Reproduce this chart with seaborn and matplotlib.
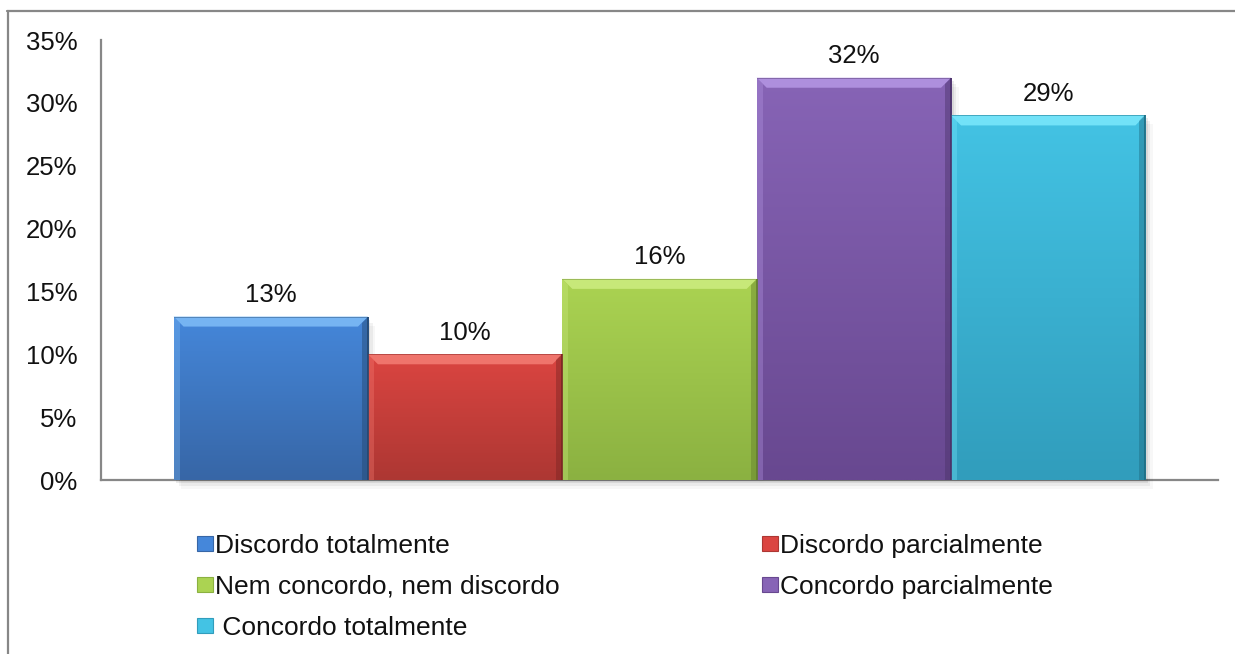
import numpy as np
import pandas as pd
import matplotlib
matplotlib.use("Agg")
import matplotlib.pyplot as plt
from matplotlib.patches import Polygon, Patch, Rectangle
from matplotlib.lines import Line2D
import seaborn as sns

# Survey answers and their share of respondents (%)
answers = ["Discordo totalmente", "Discordo parcialmente", "Nem concordo, nem discordo",
           "Concordo parcialmente", " Concordo totalmente"]
shares = [13, 10, 16, 32, 29]
y_ticks = [0, 5, 10, 15, 20, 25, 30, 35]

# (top, bottom, bevel highlight, bevel shade) per answer
palette_top = ["#4587da", "#db4541", "#abd352", "#8764b6", "#43c3e4"]
palette_bottom = ["#3766a6", "#ad3733", "#8bb141", "#684890", "#319dbc"]
palette_light = ["#7cbaf6", "#f27a72", "#cbeb7e", "#b395e2", "#78e6fb"]
palette_dark = ["#24476f", "#7a2523", "#627e2c", "#4a3268", "#1f6c82"]

df = pd.DataFrame({"grupo": [""] * len(answers), "resposta": answers, "valor": shares})

sns.set_theme(style="white")
plt.rcParams["font.family"] = ["Liberation Sans", "DejaVu Sans"]

fig = plt.figure(figsize=(12.35, 6.54), dpi=100)
ax = fig.add_axes([101 / 1235, 1 - 480 / 654, (1218 - 101) / 1235, (480 - 40) / 654])

sns.barplot(data=df, x="grupo", y="valor", hue="resposta", hue_order=answers,
            palette=palette_top, width=0.87, dodge=True, legend=False,
            saturation=1, ax=ax, linewidth=0, errorbar=None)

ax.set_xlim(-0.5, 0.5)
ax.set_ylim(0, 35)
ax.set_yticks(y_ticks)
ax.set_yticklabels([f"{t}%" for t in y_ticks], fontsize=18.5, color="#111111")
ax.set_xticks([])
ax.set_xlabel("")
ax.set_ylabel("")
ax.tick_params(axis="y", length=0, pad=17)
for side in ["top", "right"]:
    ax.spines[side].set_visible(False)
for side in ["left", "bottom"]:
    ax.spines[side].set_color("#878787")
    ax.spines[side].set_linewidth(1.6)
    ax.spines[side].set_zorder(0.5)

# pixel -> data scale for bevel geometry
fig.canvas.draw()
p0 = ax.transData.inverted().transform((0, 0))
p1 = ax.transData.inverted().transform((10, 10))
bx, by = abs(p1[0] - p0[0]), abs(p1[1] - p0[1])
sx, sy = abs(ax.transData.inverted().transform((5, 0))[0] - p0[0]), by * 0.3

bars = [p for p in ax.patches if isinstance(p, Rectangle) and p.get_height() > 0]
bars.sort(key=lambda p: p.get_x())
for i, bar in enumerate(bars):
    x, w, h = bar.get_x(), bar.get_width(), bar.get_height()
    bar.set_zorder(2)
    # soft drop shadow
    for k, a in enumerate([0.08, 0.05, 0.03]):
        ax.add_patch(Rectangle((x + sx * (k + 1) * 0.5, -sy * (k + 1)), w, h,
                               facecolor="#000000", alpha=a, lw=0, zorder=1,
                               clip_on=False))
    # vertical colour gradient
    top = np.array(matplotlib.colors.to_rgb(palette_top[i]))
    bot = np.array(matplotlib.colors.to_rgb(palette_bottom[i]))
    t = np.linspace(0, 1, 256)[:, None]
    grad = (bot * (1 - t) + top * t)[:, None, :]
    im = ax.imshow(grad, extent=[x, x + w, 0, h], origin="lower", aspect="auto",
                   zorder=3, interpolation="bilinear")
    im.set_clip_path(bar)
    # bevelled edges
    light, dark = palette_light[i], palette_dark[i]
    ax.add_patch(Polygon([(x, h), (x + w, h), (x + w - bx, h - by), (x + bx, h - by)],
                         closed=True, facecolor=light, lw=0, zorder=4, alpha=0.9))
    ax.add_patch(Polygon([(x + w, h), (x + w, 0), (x + w - bx * 0.6, 0), (x + w - bx * 0.6, h - by * 0.6)],
                         closed=True, facecolor=dark, lw=0, zorder=4, alpha=0.45))
    ax.add_patch(Polygon([(x, h), (x, 0), (x + bx * 0.6, 0), (x + bx * 0.6, h - by * 0.6)],
                         closed=True, facecolor=light, lw=0, zorder=4, alpha=0.35))
    ax.plot([x + w, x + w], [0, h], color=dark, lw=1.2, zorder=5, solid_capstyle="butt")
    ax.plot([x, x + w], [h, h], color=dark, lw=0.6, alpha=0.5, zorder=5)
    ax.annotate(f"{shares[i]}%", (x + w / 2, h), xytext=(0, 7), textcoords="offset points",
                ha="center", va="bottom", fontsize=18.5, color="#111111", zorder=6)

ax.set_xlim(-0.5, 0.5)
ax.set_ylim(0, 35)

# legend: two columns, row-major order
order = [0, 2, 4, 1, 3]
handles = [Patch(facecolor=palette_top[j], edgecolor=palette_bottom[j], linewidth=0.8) for j in order]
labels = [answers[j] for j in order]
fig.legend(handles, labels, ncol=2, loc="upper left",
           bbox_to_anchor=(197 / 1235, 1 - 534 / 654), frameon=False,
           fontsize=19, handlelength=0.6, handleheight=0.53, handletextpad=0.1,
           columnspacing=7.65, labelspacing=0.64, borderpad=0, borderaxespad=0,
           labelcolor="#111111")

# outer chart-area frame
fig.add_artist(Line2D([7 / 1235, 1], [1 - 11 / 654, 1 - 11 / 654], color="#878787", lw=1.6,
                      transform=fig.transFigure))
fig.add_artist(Line2D([7.5 / 1235, 7.5 / 1235], [0, 1 - 11 / 654], color="#878787", lw=1.6,
                      transform=fig.transFigure))

fig.savefig("out.png", dpi=100, facecolor="white")
